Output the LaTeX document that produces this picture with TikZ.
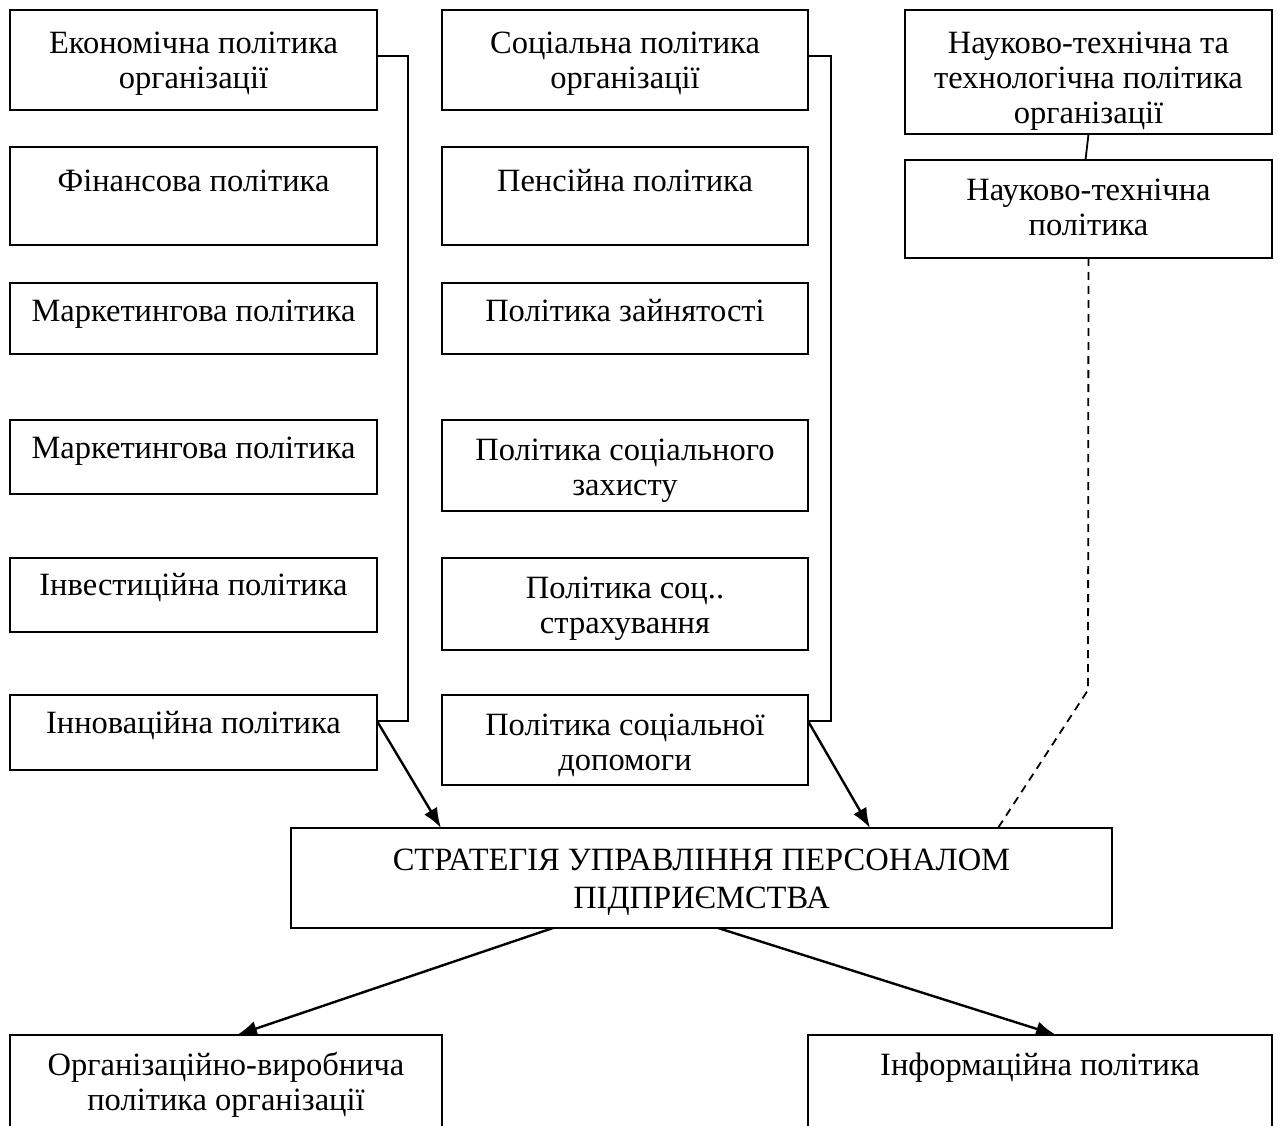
\documentclass[tikz,border=0pt]{standalone}
\usepackage{fontspec}
\setmainfont{Liberation Serif}
\usetikzlibrary{arrows.meta}

\begin{document}
\begin{tikzpicture}[x=1pt,y=-1pt]
	\tikzset{pbox/.style={draw,line width=2pt,inner sep=0pt,outer sep=0pt,anchor=north west,minimum width=367pt},
		ptext/.style={anchor=base,align=center,inner sep=0pt,font=\fontsize{32.5}{35}\selectfont},
		parr/.style={line width=2.4pt,-{Latex[length=20pt,width=15pt]}}}
	\useasboundingbox (0,0) rectangle (1278,1126);
	% left column
	\node[pbox,minimum height=100pt] (econ) at (10,10) {};
	\node[pbox,minimum height=98pt] (fin) at (10,147) {};
	\node[pbox,minimum height=71pt] (mark1) at (10,283) {};
	\node[pbox,minimum height=74pt] (mark2) at (10,420) {};
	\node[pbox,minimum height=74pt] (inv) at (10,558) {};
	\node[pbox,minimum height=75pt] (innov) at (10,695) {};
	% middle column
	\node[pbox,minimum width=366pt,minimum height=100pt] (soc) at (442,10) {};
	\node[pbox,minimum width=366pt,minimum height=98pt] (pens) at (442,147) {};
	\node[pbox,minimum width=366pt,minimum height=71pt] (empl) at (442,283) {};
	\node[pbox,minimum width=366pt,minimum height=91pt] (szah) at (442,420) {};
	\node[pbox,minimum width=366pt,minimum height=92pt] (sstr) at (442,558) {};
	\node[pbox,minimum width=366pt,minimum height=90pt] (sdop) at (442,695) {};
	% right column
	\node[pbox,minimum height=124pt] (nt) at (905,10) {};
	\node[pbox,minimum height=98pt] (ntp) at (905,160) {};
	% strategy and bottom row
	\node[pbox,minimum width=821pt,minimum height=100pt] (strat) at (291,828) {};
	\node[pbox,minimum width=432pt,minimum height=100pt] (orgv) at (10,1035) {};
	\node[pbox,minimum width=464pt,minimum height=100pt] (inf) at (808,1035) {};

	\node[ptext] (econ-t) at ([yshift=-79pt]econ.north) {Економічна політика\\організації};
	\node[ptext] (fin-t) at ([yshift=-45pt]fin.north) {Фінансова політика};
	\node[ptext] (mark1-t) at ([yshift=-38pt]mark1.north) {Маркетингова політика};
	\node[ptext] (mark2-t) at ([yshift=-38pt]mark2.north) {Маркетингова політика};
	\node[ptext] (inv-t) at ([yshift=-37pt]inv.north) {Інвестиційна політика};
	\node[ptext] (innov-t) at ([yshift=-38pt]innov.north) {Інноваційна політика};
	\node[ptext] (soc-t) at ([yshift=-79pt]soc.north) {Соціальна політика\\організації};
	\node[ptext] (pens-t) at ([yshift=-45pt]pens.north) {Пенсійна політика};
	\node[ptext] (empl-t) at ([yshift=-38pt]empl.north) {Політика зайнятості};
	\node[ptext] (szah-t) at ([yshift=-75pt]szah.north) {Політика соціального\\захисту};
	\node[ptext] (sstr-t) at ([yshift=-75pt]sstr.north) {Політика соц..\\страхування};
	\node[ptext] (sdop-t) at ([yshift=-75pt]sdop.north) {Політика соціальної\\допомоги};
	\node[ptext] (nt-t) at ([yshift=-114pt]nt.north) {Науково-технічна та\\технологічна політика\\організації};
	\node[ptext] (ntp-t) at ([yshift=-76pt]ntp.north) {Науково-технічна\\політика};
	\node[ptext] (strat-t) at ([yshift=-80pt]strat.north) {СТРАТЕГІЯ УПРАВЛІННЯ ПЕРСОНАЛОМ\\[3pt]ПІДПРИЄМСТВА};
	\node[ptext] (orgv-t) at ([yshift=-75pt]orgv.north) {Організаційно-виробнича\\політика організації};
	\node[ptext] (inf-t) at ([yshift=-40pt]inf.north) {Інформаційна політика};

	% brackets
	\coordinate (lb) at (408,721);
	\coordinate (mb) at (831,721);
	\draw[line width=2pt] ([yshift=4pt]econ.east) -| (lb) -- (lb -| innov.east) coordinate (lj);
	\draw[line width=2pt] ([yshift=4pt]soc.east) -| (mb) -- (mb -| sdop.east) coordinate (mj);
	\draw[line width=1.8pt] (nt.south) -- ([xshift=-3pt]ntp.north);
	\coordinate (nk) at (1088,690);
	\draw[line width=1.8pt,dash pattern=on 8pt off 6pt] (ntp.south) -- (nk) -- ([xshift=-114pt]strat.north east);
	\path[parr]
		(lj) edge ([xshift=150pt]strat.north west)
		(mj) edge ([xshift=579pt]strat.north west)
		([xshift=262pt]strat.south west) edge ([xshift=227pt]orgv.north west)
		([xshift=427pt]strat.south west) edge ([xshift=248pt]inf.north west);
\end{tikzpicture}
\end{document}
